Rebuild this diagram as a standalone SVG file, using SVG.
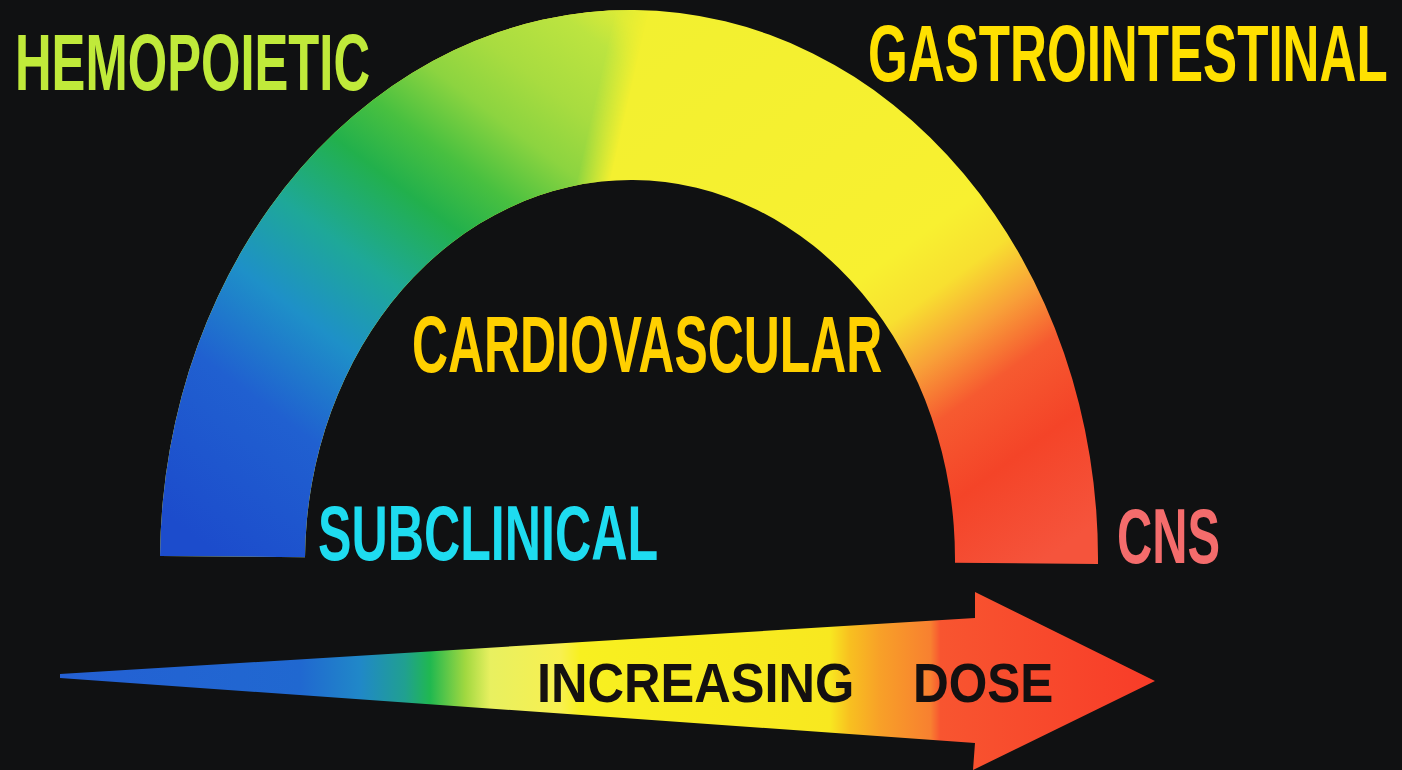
<svg xmlns="http://www.w3.org/2000/svg" width="1402" height="770" viewBox="0 0 1402 770">
  <style>
    .lbl { font-family: "Liberation Sans", Arial, sans-serif; font-weight: bold; }
  </style>
  <defs>
    <linearGradient id="gLeft" gradientUnits="userSpaceOnUse" x1="220" y1="560" x2="620" y2="20">
      <stop offset="0" stop-color="#1c4ccc"/>
      <stop offset="0.22" stop-color="#2060d0"/>
      <stop offset="0.36" stop-color="#1e90c8"/>
      <stop offset="0.48" stop-color="#1ea898"/>
      <stop offset="0.60" stop-color="#22b04c"/>
      <stop offset="0.68" stop-color="#48c040"/>
      <stop offset="0.77" stop-color="#8cd440"/>
      <stop offset="0.85" stop-color="#a8dc40"/>
      <stop offset="0.95" stop-color="#bce440"/>
      <stop offset="1" stop-color="#d8ea38"/>
    </linearGradient>
    <linearGradient id="gRight" gradientUnits="userSpaceOnUse" x1="640" y1="20" x2="1040" y2="560">
      <stop offset="0" stop-color="#f2f030"/>
      <stop offset="0.50" stop-color="#f8f030"/>
      <stop offset="0.58" stop-color="#f8e030"/>
      <stop offset="0.66" stop-color="#f8a038"/>
      <stop offset="0.74" stop-color="#f65a30"/>
      <stop offset="0.85" stop-color="#f44428"/>
      <stop offset="1" stop-color="#f5543c"/>
    </linearGradient>
    <linearGradient id="gMask" gradientUnits="userSpaceOnUse" x1="592" y1="97" x2="624" y2="104">
      <stop offset="0" stop-color="#fff"/>
      <stop offset="1" stop-color="#000"/>
    </linearGradient>
    <mask id="leftMask" maskUnits="userSpaceOnUse" x="0" y="0" width="1402" height="770">
      <rect x="0" y="0" width="1402" height="770" fill="url(#gMask)"/>
    </mask>
    <linearGradient id="gArrow" gradientUnits="userSpaceOnUse" x1="60" y1="0" x2="1155" y2="0">
      <stop offset="0" stop-color="#2460d4"/>
      <stop offset="0.219" stop-color="#2068d0"/>
      <stop offset="0.274" stop-color="#2088c8"/>
      <stop offset="0.315" stop-color="#20a090"/>
      <stop offset="0.338" stop-color="#20b850"/>
      <stop offset="0.370" stop-color="#a0d840"/>
      <stop offset="0.393" stop-color="#e8f060"/>
      <stop offset="0.457" stop-color="#f8f050"/>
      <stop offset="0.475" stop-color="#f8f020"/>
      <stop offset="0.703" stop-color="#f8e820"/>
      <stop offset="0.721" stop-color="#f8c020"/>
      <stop offset="0.749" stop-color="#f8a028"/>
      <stop offset="0.795" stop-color="#f88030"/>
      <stop offset="0.804" stop-color="#f85530"/>
      <stop offset="1" stop-color="#f83c28"/>
    </linearGradient>
    <path id="archShape" d="M 160 560 A 469 550 0 0 1 1098 560 L 955 560 A 325 380 0 0 0 305 560 Z"/>
  </defs>

  <rect x="0" y="0" width="1402" height="770" fill="#101112"/>

  <g id="arch" transform="rotate(0.49 629 560)">
    <use href="#archShape" fill="url(#gRight)"/>
    <use href="#archShape" fill="url(#gLeft)" mask="url(#leftMask)"/>
  </g>

  <g id="connectors">
    <polygon id="dose-arrow" points="60,674 975,618 975,592 1155,681 973,770 975,743 60,678" fill="url(#gArrow)"/>
  </g>

  <g id="hemopoietic">
    <text class="lbl" transform="translate(15 90) scale(0.642 1)" x="0" y="0" font-size="79" fill="#c0ea3a" textLength="553" lengthAdjust="spacingAndGlyphs">HEMOPOIETIC</text>
  </g>
  <g id="gastrointestinal">
    <text class="lbl" transform="translate(868 81) scale(0.64 1)" x="0" y="0" font-size="80" fill="#ffe000" textLength="812" lengthAdjust="spacingAndGlyphs">GASTROINTESTINAL</text>
  </g>
  <g id="cardiovascular">
    <text class="lbl" transform="translate(412 372) scale(0.627 1)" x="0" y="0" font-size="79" fill="#ffd000" textLength="750" lengthAdjust="spacingAndGlyphs">CARDIOVASCULAR</text>
  </g>
  <g id="subclinical">
    <text class="lbl" transform="translate(318 560) scale(0.643 1)" x="0" y="0" font-size="78" fill="#1edcf0" textLength="529" lengthAdjust="spacingAndGlyphs">SUBCLINICAL</text>
  </g>
  <g id="cns">
    <text class="lbl" transform="translate(1117 563) scale(0.625 1)" x="0" y="0" font-size="78" fill="#f46c6c" textLength="165" lengthAdjust="spacingAndGlyphs">CNS</text>
  </g>
  <g id="increasing-dose">
    <text class="lbl" transform="translate(537 702) scale(0.92 1)" x="0" y="0" font-size="55" fill="#141010" textLength="345" lengthAdjust="spacingAndGlyphs">INCREASING</text>
    <text class="lbl" transform="translate(913 702) scale(0.90 1)" x="0" y="0" font-size="55" fill="#141010" textLength="156" lengthAdjust="spacingAndGlyphs">DOSE</text>
  </g>
</svg>
